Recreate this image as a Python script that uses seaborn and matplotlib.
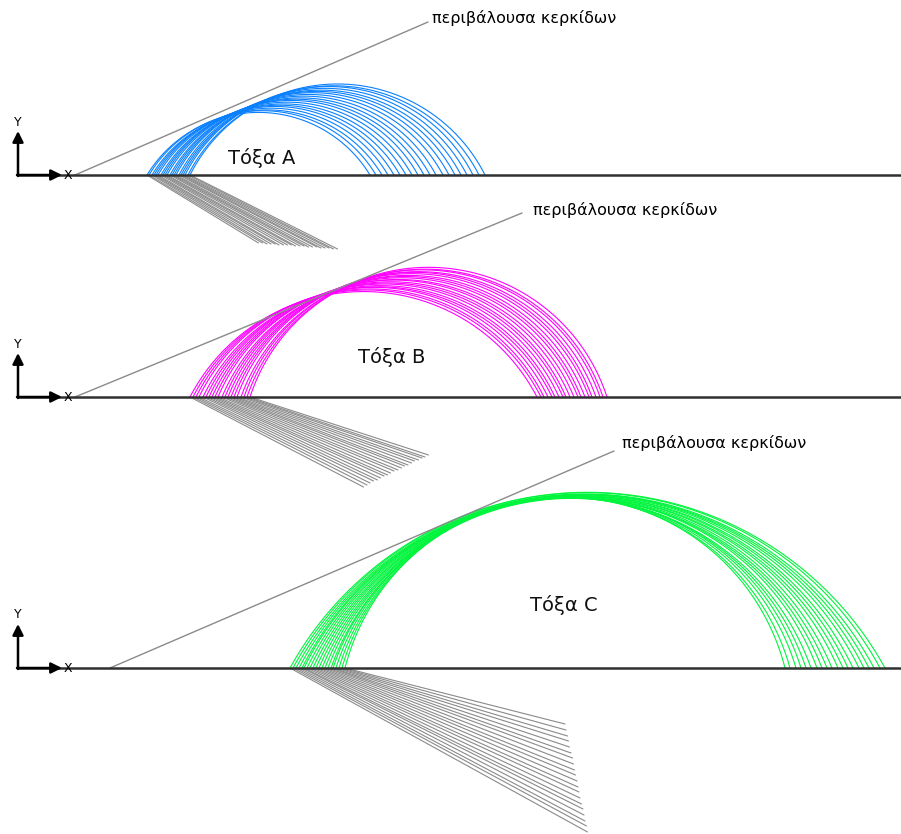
import numpy as np
import pandas as pd
import matplotlib
matplotlib.use("Agg")
import matplotlib.pyplot as plt
import seaborn as sns

sns.set_theme(style="white")
plt.rcParams['font.family'] = ['DejaVu Sans']

# ---- arch families: left foot, right foot, depth of circle centre below ground ----
A_left = [147, 149, 152, 154, 156, 158, 161, 163, 165, 167, 170, 172, 174, 176, 179, 181, 183, 185, 188, 190]
A_right = [370, 376, 382, 388, 394, 400, 406, 412, 418, 424, 430, 436, 443, 449, 455, 461, 467, 473, 479, 485]
A_depth = [68, 68, 69, 69, 69, 70, 70, 70, 70, 71, 71, 71, 72, 72, 72, 73, 73, 73, 74, 74]

B_left = [190, 193, 196, 199, 203, 206, 209, 212, 215, 218, 222, 225, 228, 231, 234, 237, 241, 244, 247, 250]
B_right = [537, 541, 544, 548, 552, 555, 559, 563, 566, 570, 574, 578, 581, 585, 589, 592, 596, 600, 603, 607]
B_depth = [90, 88, 86, 84, 83, 81, 79, 78, 76, 74, 73, 71, 69, 68, 66, 64, 63, 61, 60, 58]

C_left = [290, 293, 296, 299, 302, 304, 307, 310, 313, 316, 319, 322, 325, 328, 331, 333, 336, 339, 342, 345]
C_right = [885, 880, 874, 869, 864, 859, 853, 848, 843, 838, 832, 827, 822, 817, 811, 806, 801, 796, 790, 785]
C_depth = [164, 158, 153, 147, 141, 136, 130, 124, 119, 113, 107, 102, 96, 90, 85, 79, 73, 68, 62, 56]

arch_names = ["Τόξα A", "Τόξα B", "Τόξα C"]
envelope_label = "περιβάλουσα κερκίδων"

# ---- layout of the three panels (pixel space) ----
W, H = 901, 834
panels = [
    dict(left=A_left, right=A_right, depth=A_depth, base=175, color="#0a80ff",
         env=((75, 175), (428, 22)), env_text=(432, 18), name_xy=(262, 158)),
    dict(left=B_left, right=B_right, depth=B_depth, base=397, color="#ff00ff",
         env=((75, 397), (522, 213)), env_text=(533, 210), name_xy=(392, 357)),
    dict(left=C_left, right=C_right, depth=C_depth, base=668, color="#00f53c",
         env=((110, 668), (614, 451)), env_text=(622, 443), name_xy=(564, 605)),
]

fig = plt.figure(figsize=(W / 100, H / 100), dpi=100)
ax = fig.add_axes([0, 0, 1, 1])


def arch(left, right, depth, n=400):
    """Circular arch above the ground line; centre lies `depth` below it."""
    cx = (left + right) / 2.0
    half = (right - left) / 2.0
    r = np.hypot(half, depth)
    t0 = np.arcsin(depth / r)
    t = np.linspace(t0, np.pi - t0, n)
    return cx + r * np.cos(t), r * np.sin(t) - depth, cx


for k, p in enumerate(panels):
    base = p["base"]
    arc_rows, spoke_rows = [], []
    for i, (l, r, d) in enumerate(zip(p["left"], p["right"], p["depth"])):
        xs, hs, cx = arch(l, r, d)
        arc_rows.append(pd.DataFrame({"x": xs, "y": base - hs, "arc": i}))
        spoke_rows.append(pd.DataFrame({"x": [l, cx], "y": [base, base + d], "arc": i}))
    arcs = pd.concat(arc_rows, ignore_index=True)
    spokes = pd.concat(spoke_rows, ignore_index=True)

    sns.lineplot(data=spokes, x="x", y="y", units="arc", estimator=None, sort=False,
                 color="#8a8a8a", lw=0.8, ax=ax, legend=False)
    sns.lineplot(data=arcs, x="x", y="y", units="arc", estimator=None, sort=False,
                 color=p["color"], lw=0.8, ax=ax, legend=False)

    # ground line
    ax.plot([18, W], [base, base], color="#303030", lw=1.8, zorder=5)
    # axis arrows
    ax.annotate("", xy=(18, base - 44), xytext=(18, base + 1),
                arrowprops=dict(arrowstyle="-|>", lw=1.8, color="black",
                                mutation_scale=16, shrinkA=0, shrinkB=0), zorder=6)
    ax.annotate("", xy=(62, base), xytext=(17, base),
                arrowprops=dict(arrowstyle="-|>", lw=1.8, color="black",
                                mutation_scale=16, shrinkA=0, shrinkB=0), zorder=6)
    ax.text(18, base - 53, "Y", ha="center", va="center", fontsize=9, color="black")
    ax.text(68, base, "X", ha="center", va="center", fontsize=9, color="black", zorder=7)

    # envelope line and its label
    (x0, y0), (x1, y1) = p["env"]
    ax.plot([x0, x1], [y0, y1], color="#8a8a8a", lw=1.0, zorder=4)
    ax.text(p["env_text"][0], p["env_text"][1], envelope_label, ha="left", va="center",
            fontsize=11.5, color="black")

    ax.text(p["name_xy"][0], p["name_xy"][1], arch_names[k], ha="center", va="center",
            fontsize=14, color="#111111")

ax.set_xlim(0, W)
ax.set_ylim(H, 0)
ax.set_xlabel("")
ax.set_ylabel("")
ax.axis("off")
fig.savefig("out.png", dpi=100, facecolor="white")
